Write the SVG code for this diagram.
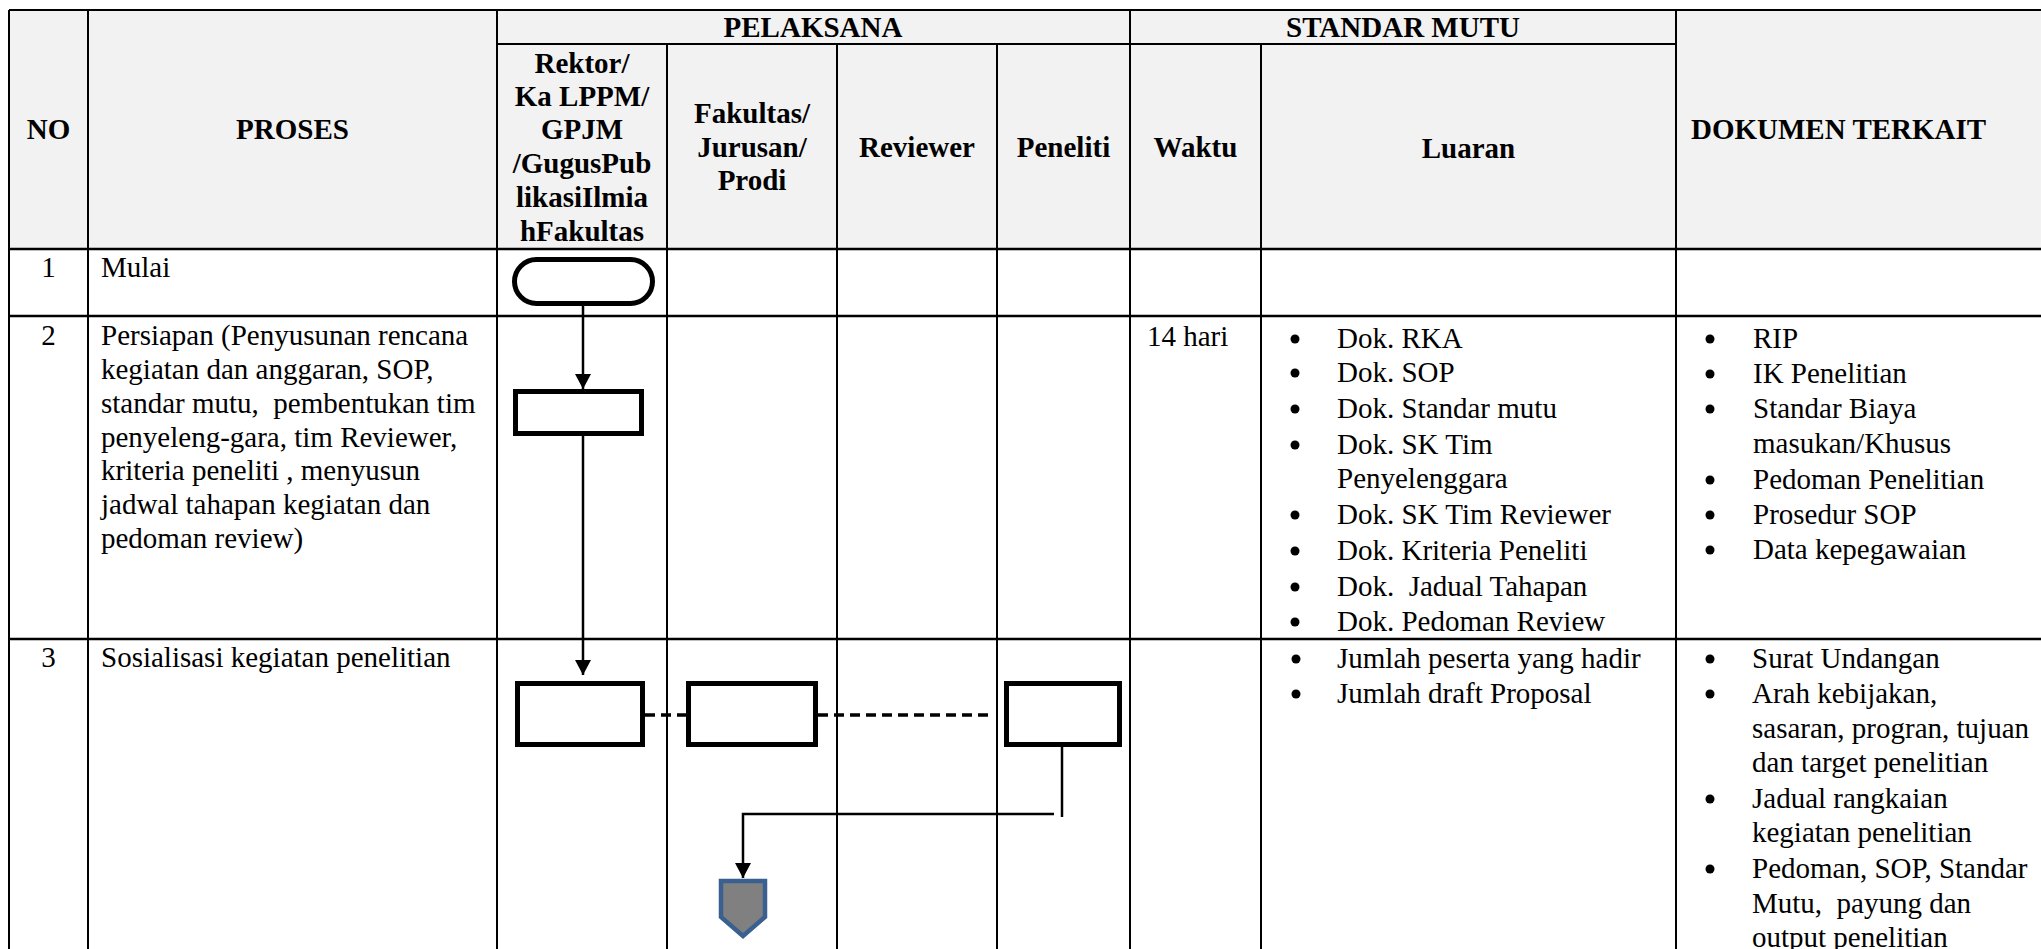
<svg xmlns="http://www.w3.org/2000/svg" width="2041" height="949" viewBox="0 0 2041 949" font-family="Liberation Serif, DejaVu Serif, serif">
<style>
text{font-family:'Liberation Serif','DejaVu Serif',serif;font-size:29px;fill:#000}
.b{font-weight:bold}
.c{text-anchor:middle}
.grid{stroke:#000;stroke-width:2;fill:none}
.hl{stroke:#000;stroke-width:2.5;fill:none}
.shape{fill:#fff;stroke:#000;stroke-width:5}
.conn{stroke:#000;stroke-width:2.5;fill:none}
.dash{stroke:#000;stroke-width:3.5;fill:none;stroke-dasharray:10 6}
</style>
<defs>
<marker id="ah" markerUnits="userSpaceOnUse" markerWidth="16" markerHeight="16" viewBox="0 0 16 16" refX="15" refY="8" orient="auto">
<path d="M0,0 L15,8 L0,16 Z" fill="#000"/>
</marker>
</defs>
<rect x="0" y="0" width="2041" height="949" fill="#fff"/>
<g id="table">
<rect x="9" y="10" width="2040" height="239" fill="#f2f2f2"/>
<path class="grid" d="M9,10 H2041 M497,44 H1676 M9,10 V949 M88,10 V949 M497,10 V949 M667,44 V949 M837,44 V949 M997,44 V949 M1130,10 V949 M1261,44 V949 M1676,10 V949"/>
<path class="hl" d="M9,249 H2041 M9,316 H2041 M9,639 H2041"/>
</g>
<g id="header" font-family="Liberation Serif, serif">
<text class="b c" x="48.5" y="139">NO</text>
<text class="b c" x="292.5" y="139">PROSES</text>
<text class="b c" x="813" y="37">PELAKSANA</text>
<text class="b c" x="1403" y="37">STANDAR MUTU</text>
<text class="b" x="1691" y="139">DOKUMEN TERKAIT</text>
<text class="b c" x="582"><tspan x="582" y="73">Rektor/</tspan><tspan x="582" y="106">Ka LPPM/</tspan><tspan x="582" y="139">GPJM</tspan><tspan x="582" y="173">/GugusPub</tspan><tspan x="582" y="207">likasiIlmia</tspan><tspan x="582" y="241">hFakultas</tspan></text>
<text class="b c" x="752"><tspan x="752" y="123">Fakultas/</tspan><tspan x="752" y="157">Jurusan/</tspan><tspan x="752" y="190">Prodi</tspan></text>
<text class="b c" x="917" y="157">Reviewer</text>
<text class="b c" x="1063.5" y="157">Peneliti</text>
<text class="b c" x="1195.5" y="157">Waktu</text>
<text class="b c" x="1468.5" y="158">Luaran</text>
</g>
<g id="row1" font-family="Liberation Serif, serif">
<text class="c" x="48.5" y="277">1</text>
<text x="101" y="277">Mulai</text>
</g>
<g id="row2" font-family="Liberation Serif, serif">
<text class="c" x="48.5" y="345">2</text>
<text x="101"><tspan x="101" y="345">Persiapan (Penyusunan rencana</tspan><tspan x="101" y="379">kegiatan dan anggaran, SOP,</tspan><tspan x="101" y="413" xml:space="preserve">standar mutu,  pembentukan tim</tspan><tspan x="101" y="447">penyeleng-gara, tim Reviewer,</tspan><tspan x="101" y="480">kriteria peneliti , menyusun</tspan><tspan x="101" y="514">jadwal tahapan kegiatan dan</tspan><tspan x="101" y="548">pedoman review)</tspan></text>
<text x="1147" y="346">14 hari</text>
<g id="luaran2">
<circle cx="1295" cy="339" r="4.5"/><text x="1337" y="348">Dok. RKA</text>
<circle cx="1295" cy="373" r="4.5"/><text x="1337" y="382">Dok. SOP</text>
<circle cx="1295" cy="409" r="4.5"/><text x="1337" y="418">Dok. Standar mutu</text>
<circle cx="1295" cy="445" r="4.5"/><text x="1337" y="454">Dok. SK Tim</text>
<text x="1337" y="488">Penyelenggara</text>
<circle cx="1295" cy="515" r="4.5"/><text x="1337" y="524">Dok. SK Tim Reviewer</text>
<circle cx="1295" cy="551" r="4.5"/><text x="1337" y="560">Dok. Kriteria Peneliti</text>
<circle cx="1295" cy="587" r="4.5"/><text x="1337" y="596" xml:space="preserve">Dok.  Jadual Tahapan</text>
<circle cx="1295" cy="622" r="4.5"/><text x="1337" y="631">Dok. Pedoman Review</text>
</g>
<g id="dok2">
<circle cx="1710" cy="339" r="4.5"/><text x="1753" y="348">RIP</text>
<circle cx="1710" cy="374" r="4.5"/><text x="1753" y="383">IK Penelitian</text>
<circle cx="1710" cy="409" r="4.5"/><text x="1753" y="418">Standar Biaya</text>
<text x="1753" y="453">masukan/Khusus</text>
<circle cx="1710" cy="480" r="4.5"/><text x="1753" y="489">Pedoman Penelitian</text>
<circle cx="1710" cy="515" r="4.5"/><text x="1753" y="524">Prosedur SOP</text>
<circle cx="1710" cy="550" r="4.5"/><text x="1753" y="559">Data kepegawaian</text>
</g>
</g>
<g id="row3" font-family="Liberation Serif, serif">
<text class="c" x="48.5" y="667">3</text>
<text x="101" y="667">Sosialisasi kegiatan penelitian</text>
<g id="luaran3">
<circle cx="1296" cy="659" r="4.5"/><text x="1337" y="668">Jumlah peserta yang hadir</text>
<circle cx="1296" cy="694" r="4.5"/><text x="1337" y="703">Jumlah draft Proposal</text>
</g>
<g id="dok3">
<circle cx="1710" cy="659" r="4.5"/><text x="1752" y="668">Surat Undangan</text>
<circle cx="1710" cy="694" r="4.5"/><text x="1752" y="703">Arah kebijakan,</text>
<text x="1752" y="738">sasaran, progran, tujuan</text>
<text x="1752" y="772">dan target penelitian</text>
<circle cx="1710" cy="799" r="4.5"/><text x="1752" y="808">Jadual rangkaian</text>
<text x="1752" y="842">kegiatan penelitian</text>
<circle cx="1710" cy="869" r="4.5"/><text x="1752" y="878">Pedoman, SOP, Standar</text>
<text x="1752" y="913" xml:space="preserve">Mutu,  payung dan</text>
<text x="1752" y="947">output penelitian</text>
</g>
</g>
<g id="connectors">
<path class="conn" d="M583,306 V389" marker-end="url(#ah)"/>
<path class="conn" d="M583,436 V675" marker-end="url(#ah)"/>
<path class="dash" d="M645,715 H686"/>
<path class="dash" d="M818,715 H991"/>
<path class="conn" d="M1062,747 V817"/>
<path class="conn" d="M1054,814 H743 V878" marker-end="url(#ah)"/>
</g>
<g id="node-start">
<rect class="shape" x="514.5" y="259.5" width="138" height="44" rx="22" ry="22"/>
</g>
<g id="node-persiapan">
<rect class="shape" x="515.5" y="391.5" width="126" height="42"/>
</g>
<g id="node-sos-rektor">
<rect class="shape" x="517.5" y="683.5" width="125" height="61"/>
</g>
<g id="node-sos-fakultas">
<rect class="shape" x="688.5" y="683.5" width="127" height="61"/>
</g>
<g id="node-sos-peneliti">
<rect class="shape" x="1006.5" y="683.5" width="113" height="61"/>
</g>
<g id="node-offpage">
<path d="M721,881 H765 V917 L743,936 L721,917 Z" fill="#808080" stroke="#3a6090" stroke-width="4.5" stroke-linejoin="miter"/>
</g>
</svg>
